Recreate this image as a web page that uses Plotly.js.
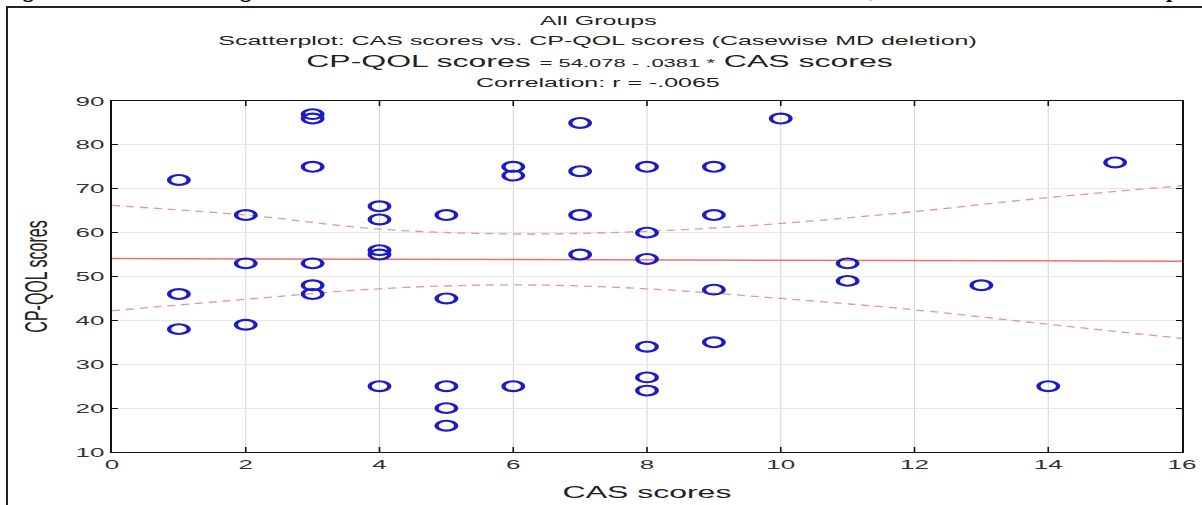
<!DOCTYPE html>
<html>
<head>
<meta charset="utf-8">
<script src="https://cdn.plot.ly/plotly-3.0.1.min.js"></script>
<style>
  html, body { margin: 0; padding: 0; width: 1202px; height: 505px; overflow: hidden; background: #fff; }
  #header { position: absolute; left: 2px; top: -22px; white-space: nowrap; font-family: "Liberation Serif", "Times New Roman", serif; font-weight: bold; font-size: 23px; line-height: 23px; color: #000; }
  #frame { position: absolute; left: 6px; top: 6px; width: 1210px; height: 520px; border-top: 2px solid #222; border-left: 2px solid #222; pointer-events: none; z-index: 5; background: transparent; }
  #wrap { position: absolute; left: 0; top: 0; width: 601px; height: 505px; transform: scaleX(2); transform-origin: 0 0; }
</style>
</head>
<body>
<div id="header"><span id="h1">Figure 4: The Linear Re</span><span id="h2">gression Line between the Total CAS Scores and the Total CP-</span><span id="h3">QOL Scores for the Whole Sam</span><span id="h4">ple</span></div>
<div id="wrap"><div id="plot"></div></div>
<div id="frame"></div>
<script>
// Data
const casScores = [1,1,1, 2,2,2, 3,3,3,3,3,3, 4,4,4,4,4, 5,5,5,5,5, 6,6,6, 7,7,7,7, 8,8,8,8,8,8, 9,9,9,9, 10, 11,11, 13, 14, 15];
const cpqolScores = [72,46,38, 64,53,39, 87,86,75,53,48,46, 66,63,56,55,25, 64,45,25,20,16, 75,73,25, 85,74,64,55, 75,60,54,34,27,24, 75,64,47,35, 86, 53,49, 48, 25, 76];

// Fitted line (CP-QOL scores = 54.078 - .0381 * CAS scores), read at the axis ends
const fitX = [0, 16];
const fitY = [54.08, 53.47];

// 95% confidence band
const bandX = [0, 2, 4, 6, 8, 10, 12, 14, 16];
const bandUpper = [66.2, 64.0, 60.8, 59.7, 60.3, 62.1, 64.8, 68.0, 70.7];
const bandLower = [42.2, 44.8, 47.2, 48.1, 47.2, 45.0, 42.4, 39.1, 35.9];

const xTicks = [0, 2, 4, 6, 8, 10, 12, 14, 16];
const yTicks = [10, 20, 30, 40, 50, 60, 70, 80, 90];

const titleLines = [
  'All Groups',
  'Scatterplot: CAS scores vs. CP-QOL scores (Casewise MD deletion)',
  'CP-QOL scores <span style="font-size:11px">= 54.078 - .0381 </span><span style="font-size:11px">*</span> CAS scores',
  'Correlation: r = -.0065'
];

// Align the clipped caption line so its descenders fall where the reference shows them
function alignHeader() {
  const targets = { h2: 240, h3: 857, h4: 1166 };
  const ids = ['h1', 'h2', 'h3'];
  ids.forEach((id) => { document.getElementById(id).style.letterSpacing = '0px'; });
  ids.forEach((id, i) => {
    const next = ['h2', 'h3', 'h4'][i];
    const el = document.getElementById(id);
    const cur = document.getElementById(next).getBoundingClientRect().left;
    const n = el.textContent.length;
    const ls = (targets[next] - cur) / n;
    el.style.letterSpacing = ls.toFixed(3) + 'px';
  });
}
alignHeader();
if (document.fonts && document.fonts.ready) {
  document.fonts.load('bold 23px "Liberation Serif"').then(alignHeader).catch(() => {});
  document.fonts.ready.then(alignHeader);
}

const FONT = 'Liberation Sans, Arial, sans-serif';
const bandColor = '#e8969a';

const traces = [
  { x: bandX, y: bandUpper, mode: 'lines', line: { color: bandColor, width: 1.3, dash: '4px,3px', shape: 'spline' }, hoverinfo: 'skip' },
  { x: bandX, y: bandLower, mode: 'lines', line: { color: bandColor, width: 1.3, dash: '4px,3px', shape: 'spline' }, hoverinfo: 'skip' },
  { x: fitX, y: fitY, mode: 'lines', line: { color: '#f07070', width: 1.5 }, hoverinfo: 'skip' },
  { x: casScores, y: cpqolScores, mode: 'markers',
    marker: { symbol: 'circle-open', size: 9.8, color: '#1c1cc4', line: { width: 2.1, color: '#1c1cc4' } } }
];

const plotL = 56, plotR = 10, plotT = 101, plotB = 53, W = 601, H = 505;
const plotH = H - plotT - plotB, plotW = W - plotL - plotR;
function py(p) { return (H - plotB - p) / plotH; }
const titleX = (299 - plotL) / plotW;
const titleY = [21, 41, 61, 83];
const titleSize = [12.5, 12.5, 16, 12.5];

const annotations = titleLines.map((t, i) => ({
  text: t, xref: 'paper', yref: 'paper', x: titleX, y: py(titleY[i]),
  xanchor: 'center', yanchor: 'middle', showarrow: false,
  font: { family: FONT, size: titleSize[i], color: '#222' }
}));

const layout = {
  width: W, height: H,
  margin: { l: plotL, r: plotR, t: plotT, b: plotB, pad: 0 },
  paper_bgcolor: 'rgba(0,0,0,0)', plot_bgcolor: '#ffffff',
  showlegend: false,
  font: { family: FONT, color: '#222' },
  annotations: annotations,
  xaxis: {
    range: [0, 16], tickvals: xTicks, ticktext: xTicks.map(String),
    showgrid: true, gridcolor: '#c4c4c4', gridwidth: 0.5, zeroline: false,
    showline: true, linecolor: '#111', linewidth: 1.4, mirror: 'allticks',
    ticks: 'inside', ticklen: 5, tickwidth: 0.8, tickcolor: '#111',
    tickfont: { family: FONT, size: 13, color: '#333' },
    title: { text: 'CAS scores', font: { family: FONT, size: 16, color: '#222' }, standoff: 16 },
    automargin: false
  },
  yaxis: {
    range: [10, 90], tickvals: yTicks, ticktext: yTicks.map(String),
    showgrid: true, gridcolor: '#e6e6e6', gridwidth: 1, zeroline: false,
    showline: true, linecolor: '#111', linewidth: 1.2, mirror: 'allticks',
    ticks: 'inside', ticklen: 3, tickwidth: 1, tickcolor: '#111',
    tickfont: { family: FONT, size: 13, color: '#333' },
    title: { text: 'CP-QOL scores', font: { family: FONT, size: 16, color: '#222' }, standoff: 9 },
    automargin: false
  }
};

Plotly.newPlot('plot', traces, layout, { displayModeBar: false, staticPlot: true });
</script>
</body>
</html>
